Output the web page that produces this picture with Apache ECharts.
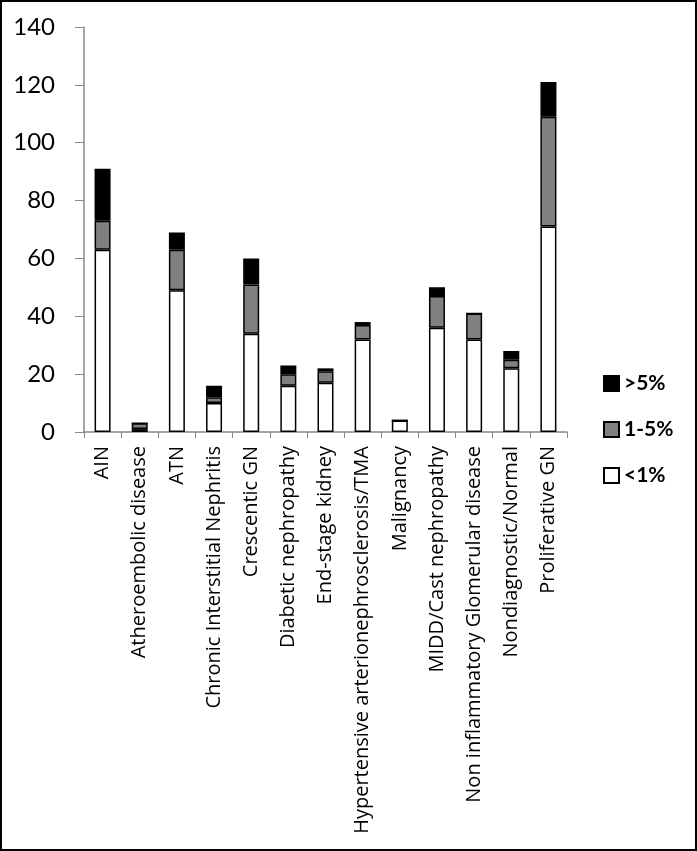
<!DOCTYPE html>
<html><head><meta charset="utf-8">
<script src="https://cdn.jsdelivr.net/npm/echarts@6/dist/echarts.min.js"></script>
<style>html,body{margin:0;padding:0;background:#fff}#c{width:697px;height:851px}</style>
</head><body><div id="c"></div>
<script>
const categories = ['AIN','Atheroembolic disease','ATN','Chronic Interstitial Nephritis','Crescentic GN','Diabetic nephropathy','End-stage kidney','Hypertensive arterionephrosclerosis/TMA','Malignancy','MIDD/Cast nephropathy','Non inflammatory Glomerular disease','Nondiagnostic/Normal','Proliferative GN'];
const lt1 = [63,1,49,10,34,16,17,32,4,36,32,22,71];
const p1to5 = [10,2,14,2,17,4,4,5,0,11,9,3,38];
const gt5 = [18,0,6,4,9,3,1,1,0,3,0,3,12];
const yTicks = [0,20,40,60,80,100,120,140];

const chart = echarts.init(document.getElementById('c'));
const font = 'Lato, "Open Sans", sans-serif';
function s(name, data, color) {
  return {name, type:'bar', stack:'a', data, barWidth:16,
    itemStyle:{color, borderColor:'#000', borderWidth:1.5}};
}
chart.setOption({
  animation:false,
  graphic:[{type:'rect', shape:{x:1,y:1,width:695,height:849}, style:{fill:'none', stroke:'#000', lineWidth:2}, silent:true}],
  grid:{left:84, right:130, top:27, bottom:419},
  legend:{orient:'vertical', left:598, top:368, itemGap:25, itemWidth:15, itemHeight:15, icon:'rect',
    data:['>5%','1-5%','<1%'],
    textStyle:{fontFamily:font, fontSize:21, fontWeight:'bold', color:'#000'}},
  xAxis:{type:'category', data:categories,
    axisLine:{lineStyle:{color:'#888', width:1.5}},
    axisTick:{show:true, length:6, lineStyle:{color:'#888'}},
    axisLabel:{rotate:90, interval:0, margin:14, fontFamily:'"Open Sans", sans-serif', fontSize:20, color:'#000'}},
  yAxis:{type:'value', min:0, max:140, interval:20,
    splitLine:{show:false},
    axisLine:{show:true, lineStyle:{color:'#888', width:1.5}},
    axisTick:{show:true, length:9, lineStyle:{color:'#888'}},
    axisLabel:{margin:29, fontFamily:font, fontSize:24, color:'#000',
      formatter:v=>yTicks.includes(v)?String(v):''}},
  series:[
    s('<1%', lt1, '#ffffff'),
    s('1-5%', p1to5, '#808080'),
    s('>5%', gt5, '#000000')
  ]
});
</script></body></html>
